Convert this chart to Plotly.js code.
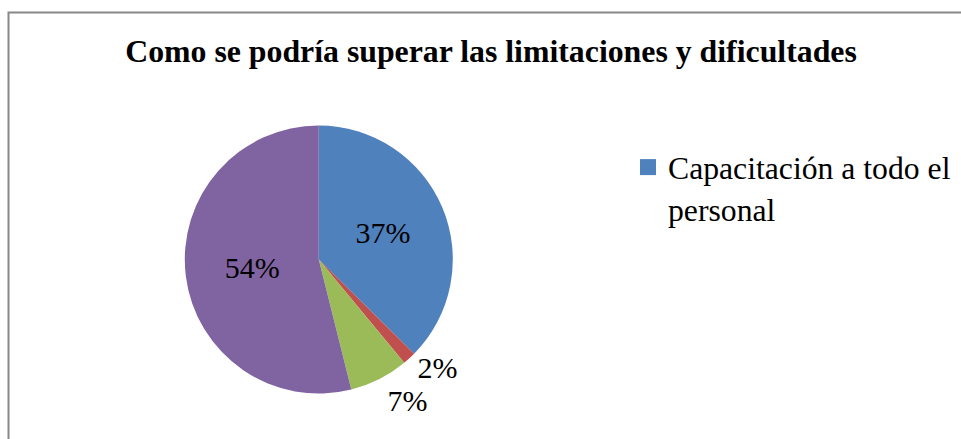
<!DOCTYPE html>
<html>
<head>
<meta charset="utf-8">
<script src="https://cdn.plot.ly/plotly-3.0.1.min.js"></script>
<style>
  html, body { margin: 0; padding: 0; background: #ffffff; overflow: hidden; }
  #chart { width: 961px; height: 439px; }
  /* the reference has no leader line under the shifted outside label */
  #chart .pielayer path.textline { display: none; }
</style>
</head>
<body>
<div id="chart"></div>
<script>
// Data
var chartTitle = "Como se podría superar las limitaciones y dificultades";
var sliceKeys = ["capacitacion", "s2", "s3", "s4"];
var sliceValues = [37.4, 1.6, 7.1, 53.9];
var sliceColors = ["#4F81BD", "#C0504D", "#9BBB59", "#8064A2"];
var sliceTextPos = ["inside", "outside", "outside", "inside"];
var legendLabels = ["Capacitación a todo el<br>personal"];

var W = 961, H = 439;
var serif = "Liberation Serif";

var pieTrace = {
  type: "pie",
  labels: sliceKeys,
  values: sliceValues,
  sort: false,
  direction: "clockwise",
  rotation: 0,
  marker: { colors: sliceColors, line: { width: 0 } },
  texttemplate: "%{percent:.0%}",
  textposition: sliceTextPos,
  insidetextorientation: "horizontal",
  textfont: { family: serif, size: 30, color: "#000000" },
  insidetextfont: { family: serif, size: 30, color: "#000000" },
  outsidetextfont: { family: serif, size: 30, color: "#000000" },
  domain: { x: [184.8 / W, 452.8 / W], y: [1 - 393.5 / H, 1 - 125.5 / H] },
  showlegend: false,
  hoverinfo: "label+percent"
};

// legend entry for the visible first category
var legendTrace = {
  type: "scatter",
  mode: "markers",
  x: [null], y: [null],
  name: legendLabels[0],
  marker: { symbol: "square", size: 16, color: sliceColors[0] },
  showlegend: true,
  hoverinfo: "skip"
};

var layout = {
  width: W, height: H,
  margin: { l: 0, r: 0, t: 0, b: 0 },
  paper_bgcolor: "#ffffff",
  plot_bgcolor: "rgba(0,0,0,0)",
  font: { family: serif },
  title: {
    text: chartTitle,
    font: { family: serif, size: 31.8, color: "#000000", weight: "bold" },
    x: 491 / W, xanchor: "center", xref: "paper",
    y: 1 - 50.6 / H, yanchor: "middle", yref: "container"
  },
  xaxis: { visible: false, showgrid: false, zeroline: false },
  yaxis: { visible: false, showgrid: false, zeroline: false },
  legend: {
    x: 628 / W, xanchor: "left",
    y: 1 - 140 / H, yanchor: "top",
    valign: "top",
    bgcolor: "rgba(0,0,0,0)",
    borderwidth: 0,
    font: { family: serif, size: 31.7, color: "#000000" }
  },
  shapes: [{
    type: "rect", xref: "paper", yref: "paper",
    x0: 8.5 / W, x1: 1.05, y0: -0.05, y1: 1 - 12.5 / H,
    line: { color: "#888888", width: 2 },
    fillcolor: "rgba(0,0,0,0)", layer: "below"
  }]
};

Plotly.newPlot("chart", [pieTrace, legendTrace], layout, { displayModeBar: false, staticPlot: true });
</script>
</body>
</html>
